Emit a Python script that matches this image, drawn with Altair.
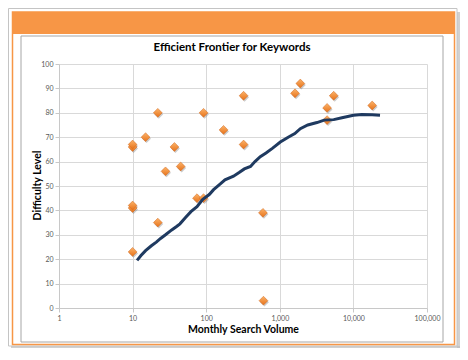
import altair as alt
import pandas as pd

# Scatter: keywords
volume = [10, 10, 10, 10, 10, 15, 22, 22, 28, 37, 45, 75, 92, 92, 172, 322, 322, 590, 600, 1610, 1900, 4390, 4390, 5400, 18000]
difficulty = [66, 67, 41, 42, 23, 70, 80, 35, 56, 66, 58, 45, 45, 80, 73, 87, 67, 39, 3, 88, 92, 82, 77, 87, 83]

# Efficient frontier curve
front_vol = [11.5, 13, 15, 18, 21, 24, 28, 34, 40, 44, 52, 62, 75, 90, 110, 126, 150, 180, 235, 280, 330,
             400, 460, 543, 650, 800, 1016, 1300, 1600, 1900, 2400, 3200, 4000, 5400, 7000, 10000, 13000,
             18000, 23000]
front_diff = [19.5, 21.5, 23.5, 25.5, 27, 28.5, 30, 32, 33.5, 34.5, 37, 39.5, 41.5, 44.5, 46.5, 48.5, 50.5,
              52.5, 54, 55.5, 57, 58, 60, 62, 63.5, 65.5, 68, 70, 71.5, 73.5, 75, 76, 77, 77.2, 78, 79,
              79.3, 79.2, 79]

x_ticks = [1, 10, 100, 1000, 10000, 100000]
y_ticks = [0, 10, 20, 30, 40, 50, 60, 70, 80, 90, 100]

pts = pd.DataFrame({"vol": volume, "diff": difficulty})
fr = pd.DataFrame({"vol": front_vol, "diff": front_diff})

W, H = 368, 244
FONT = "Lato"
xs = alt.Scale(type="log", domain=[1, 100000])
ys = alt.Scale(domain=[0, 100])

deco = alt.Data(values=[{"a": 1}])


def rect(x, x2, y, y2, **kw):
    return alt.Chart(deco).mark_rect(**kw).encode(
        x=alt.value(x), x2=alt.value(x2), y=alt.value(y), y2=alt.value(y2))


shadow_r = rect(398, 401, -52, 284, fill="#bdbdbd", opacity=0.7)
shadow_b = rect(-48, 401, 282, 284, fill="#bdbdbd", opacity=0.7)
outer = rect(-50.5, 398, -55.5, 282, fillOpacity=0, stroke="#c4c4c4", strokeWidth=1)
header = rect(-47, 396, -52, -30, fill="#F79646")
orange_border = rect(-46.5, 395.5, -52, 280.5, fillOpacity=0, stroke="#F79646", strokeWidth=1.5)
inner_border = rect(-38, 384, -28, 278, fillOpacity=0, stroke="#a6a6a6", strokeWidth=1)

title = alt.Chart(deco).mark_text(
    font=FONT, fontSize=11.5, fontWeight="bold", color="#000000", align="center", baseline="middle"
).encode(x=alt.value(173), y=alt.value(-16), text=alt.value("Efficient Frontier for Keywords"))

x_axis = alt.Axis(
    values=x_ticks, format=",", labelFont=FONT, labelFontSize=7, labelColor="#595959",
    grid=True, gridColor="#d9d9d9", domainColor="#c8c8c8", tickColor="#c8c8c8", tickSize=4,
    labelPadding=2, labelFlush=False, labelOverlap=False, title="Monthly Search Volume", titleFont=FONT,
    titleFontSize=10.5, titleFontWeight="bold", titleColor="#000000", titleX=184, titleY=21,
    titleBaseline="middle", titleAlign="center")
y_axis = alt.Axis(
    values=y_ticks, labelFont=FONT, labelFontSize=7, labelColor="#595959",
    grid=True, gridColor="#d9d9d9", domainColor="#c8c8c8", tickColor="#c8c8c8", tickSize=4,
    labelPadding=2, labelOverlap=False, title="Difficulty Level", titleFont=FONT, titleFontSize=10.5,
    titleFontWeight="bold", titleColor="#000000", titleX=-22, titleY=121, titleAngle=-90,
    titleBaseline="middle", titleAlign="center")

enc_x = alt.X("vol:Q", scale=xs, axis=x_axis)
enc_y = alt.Y("diff:Q", scale=ys, axis=y_axis)

diamond_fill = alt.Gradient(
    gradient="linear", x1=0, x2=0, y1=0, y2=1,
    stops=[alt.GradientStop(color="#FBB36A", offset=0), alt.GradientStop(color="#E8731A", offset=1)])

shadow_pts = alt.Chart(pts).mark_point(
    shape="diamond", filled=True, size=78, color="#6b6b6b", opacity=0.35, xOffset=1, yOffset=1.5
).encode(x=enc_x, y=enc_y)

points = alt.Chart(pts).mark_point(
    shape="diamond", filled=True, size=78, fill=diamond_fill, stroke="#D0661C", strokeWidth=0.5, opacity=1
).encode(x=enc_x, y=enc_y)

line = alt.Chart(fr).mark_line(color="#1F3A60", strokeWidth=3).encode(x=enc_x, y=enc_y)

chart = alt.layer(
    shadow_r, shadow_b, outer, header, orange_border, inner_border, title, shadow_pts, points, line
).properties(
    width=W, height=H,
    autosize=alt.AutoSizeParams(type="none"),
    padding={"left": 51, "top": 56, "right": 33, "bottom": 40},
    background="#ffffff",
).configure_view(strokeWidth=0)

chart.save("out.html", embed_options={"renderer": "svg", "actions": False})
